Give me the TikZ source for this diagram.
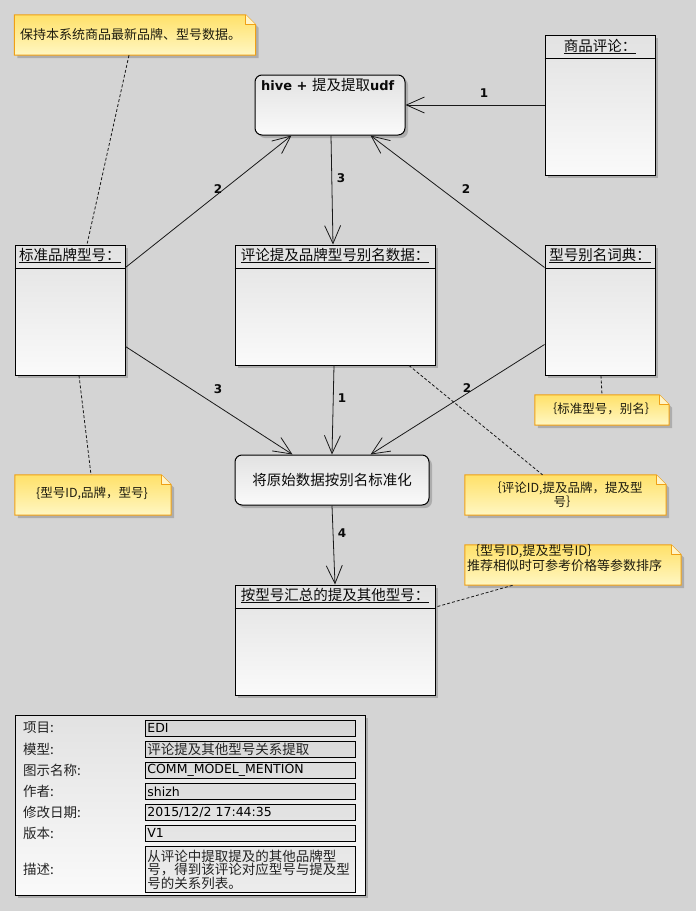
\documentclass[tikz,border=0pt]{standalone}
\usepackage{fontspec}
\setmainfont{DejaVu Sans}
\newfontfamily\cjk{Noto Sans CJK SC}
\usetikzlibrary{calc,arrows.meta,shadows}
\pgfdeclarelayer{background}
\pgfsetlayers{background,main}
\definecolor{bgc}{RGB}{212,212,212}
\definecolor{linec}{RGB}{25,25,25}
\definecolor{clsTop}{RGB}{226,226,226}
\definecolor{clsBot}{RGB}{250,250,250}
\definecolor{noteTop}{RGB}{255,225,105}
\definecolor{noteBot}{RGB}{255,247,195}
\definecolor{noteBorder}{RGB}{240,160,20}
\definecolor{noteCorner}{RGB}{255,244,200}
\definecolor{txtc}{RGB}{10,10,10}
\definecolor{notetxt}{RGB}{30,28,15}
\definecolor{tbltxt}{RGB}{35,35,35}
\newcommand\notebg[1]{%
  \begin{pgfonlayer}{background}
    \fill[black,opacity=0.18] ($(#1.north west)+(3,3)$) -- ($(#1.north east)+(-7,3)$) -- ($(#1.north east)+(3,13)$) -- ($(#1.south east)+(3,3)$) -- ($(#1.south west)+(3,3)$) -- cycle;
    \path[top color=noteTop,bottom color=noteBot,draw=noteBorder,line width=1pt]
      (#1.north west) -- ($(#1.north east)+(-10,0)$) -- ($(#1.north east)+(0,10)$) -- (#1.south east) -- (#1.south west) -- cycle;
    \draw[noteBorder,fill=noteCorner,line width=0.8pt,line join=round] ($(#1.north east)+(-10,0)$) -- ($(#1.north east)+(-10,10)$) -- ($(#1.north east)+(0,10)$);
  \end{pgfonlayer}}
\tikzset{
  conn/.style={draw=linec,line width=0.8pt,-{Straight Barb[length=18pt,width=16pt,line width=0.8pt]}},
  lbl/.style={font=\fontsize{12}{12}\selectfont\bfseries,text=txtc,inner sep=0},
  dashc/.style={draw=linec,line width=0.8pt,dash pattern=on 3pt off 2pt},
  cls/.style={draw=black,line width=1pt,top color=clsTop,bottom color=clsBot,inner sep=0,
    drop shadow={shadow xshift=3pt,shadow yshift=-3pt,fill=black,opacity=0.18}},
  rnd/.style={cls,rounded corners=7pt},
  hdr/.style={draw=black,line width=1pt},
  ttl/.style={font=\cjk\fontsize{14.5}{14.5}\selectfont,text=txtc,inner sep=0},
  note/.style={inner sep=0},
  ntxt/.style={font=\cjk\fontsize{13}{15}\selectfont,text=notetxt,inner sep=0},
  tlab/.style={font=\cjk\fontsize{13.5}{14}\selectfont,text=tbltxt,inner sep=0,anchor=west},
  tval/.style={draw=black,line width=0.8pt,fill=black,fill opacity=0.05,text opacity=1,
    minimum height=16pt,text width=206pt,inner sep=2pt,align=left,anchor=north west,
    font=\fontsize{12.5}{13.5}\selectfont,text=black},
}
\begin{document}
\begin{tikzpicture}[x=1pt,y=-1pt]
\begin{pgfonlayer}{background}
\fill[bgc] (0,0) rectangle (696,911);
\end{pgfonlayer}
\useasboundingbox (0,0) rectangle (696,911);

% ---- class boxes
\node[cls,minimum width=110pt,minimum height=140pt] (cmt) at (600,105) {};
\draw[hdr] ($(cmt.north west)+(0,24)$) -- ($(cmt.north east)+(0,24)$);
\node[ttl] (cmtT) at ($(cmt.north)+(0,12)$) {\underline{商品评论：}};

\node[cls,minimum width=110pt,minimum height=130pt] (std) at (70,310) {};
\draw[hdr] ($(std.north west)+(0,24)$) -- ($(std.north east)+(0,24)$);
\node[ttl] (stdT) at ($(std.north)+(0,11)$) {\underline{标准品牌型号：}};

\node[cls,minimum width=200pt,minimum height=120pt] (ald) at (335,305) {};
\draw[hdr] ($(ald.north west)+(0,24)$) -- ($(ald.north east)+(0,24)$);
\node[ttl] (aldT) at ($(ald.north)+(0,11)$) {\underline{评论提及品牌型号别名数据：}};

\node[cls,minimum width=110pt,minimum height=130pt] (dict) at (600,310) {};
\draw[hdr] ($(dict.north west)+(0,24)$) -- ($(dict.north east)+(0,24)$);
\node[ttl] (dictT) at ($(dict.north)+(0,11)$) {\underline{型号别名词典：}};

\node[cls,minimum width=200pt,minimum height=110pt] (res) at (335,640) {};
\draw[hdr] ($(res.north west)+(0,24)$) -- ($(res.north east)+(0,24)$);
\node[ttl] (resT) at ($(res.north)+(0,11)$) {\underline{按型号汇总的提及其他型号：}};

% ---- rounded boxes
\node[rnd,minimum width=150pt,minimum height=60pt] (hive) at (330,105) {};
\node[anchor=west,inner sep=0,text=txtc] (hiveT) at (261,85)
  {\fontsize{13}{13}\selectfont\bfseries hive + {\cjk\fontsize{14.5}{14.5}\selectfont\mdseries 提及提取}udf};

\node[rnd,minimum width=194pt,minimum height=50pt,font=\cjk\fontsize{14.5}{14.5}\selectfont,text=txtc] (norm) at (332,480) {将原始数据按别名标准化};

% ---- notes
\node[note,minimum width=241pt,minimum height=40pt] (n1) at (135,35) {};
\notebg{n1}
\node[ntxt,anchor=west] (n1t) at (20,35) {保持本系统商品最新品牌、型号数据。};

\node[note,minimum width=134pt,minimum height=30pt] (n2) at (602,410) {};
\notebg{n2}
\node[ntxt,font=\cjk\fontsize{12.5}{14}\selectfont] (n2t) at (601,409) {｛标准型号，别名｝};

\node[note,minimum width=156pt,minimum height=40pt] (n3) at (93,495) {};
\notebg{n3}
\node[ntxt,font=\cjk\fontsize{12.5}{14}\selectfont] (n3t) at (92,493) {\{型号ID,品牌，型号\}};

\node[note,minimum width=201pt,minimum height=40pt] (n4) at (565.5,495) {};
\notebg{n4}
\node[ntxt,font=\cjk\fontsize{12.5}{14}\selectfont,align=center] (n4t) at (566,495) {｛评论ID,提及品牌，提及型\\号｝};

\node[note,minimum width=216pt,minimum height=40pt] (n5) at (573,565) {};
\notebg{n5}
\node[ntxt,anchor=north west,align=left] (n5t) at (467,544) {｛型号ID,提及型号ID｝\\推荐相似时可参考价格等参数排序};

% ---- connectors
\draw[conn] (cmt.west) -- (hive.east);
\draw[conn] ($(std.north east)+(0,23)$) -- ($(hive.south west)+(37,0)$);
\draw[conn] ($(dict.north west)+(0,23)$) -- ($(hive.south east)+(-35,0)$);
\draw[conn] ($(hive.south)+(1,0)$) -- ($(ald.north)+(-2,0)$);
\draw[conn] ($(std.north east)+(0,102)$) -- ($(norm.north west)+(58,0)$);
\draw[conn] ($(ald.south)+(-1,0)$) -- (norm.north);
\draw[conn] ($(dict.north west)+(0,100)$) -- ($(norm.north west)+(136,0)$);
\draw[conn] (norm.south) -- (res.north);

\node[lbl] (l1) at (484,93) {1};
\node[lbl] (l2) at (218,189) {2};
\node[lbl] (l3) at (466,189) {2};
\node[lbl] (l4) at (341,178) {3};
\node[lbl] (l5) at (218,389) {3};
\node[lbl] (l6) at (342,398) {1};
\node[lbl] (l7) at (467,388) {2};
\node[lbl] (l8) at (342,533) {4};

% ---- dashed note links
\draw[dashc] ($(n1.south)+(-6,0)$) -- ($(std.north)+(17,0)$);
\draw[dashc] ($(std.south)+(9,0)$) -- ($(n3.north)+(-2,0)$);
\draw[dashc] ($(dict.south)+(1,0)$) -- (n2.north);
\draw[dashc] ($(ald.south)+(74,0)$) -- ($(n4.north)+(-23,0)$);
\draw[dashc] ($(res.north east)+(2,22)$) -- ($(n5.south)+(-60,0)$);

% ---- info table
\node[draw=black,line width=1pt,top color=clsTop,bottom color=clsBot,minimum width=350pt,minimum height=180pt,inner sep=0,
  drop shadow={shadow xshift=3pt,shadow yshift=-3pt,fill=black,opacity=0.18}] (tbl) at (190,805) {};
\node[tlab] (k1) at (23,728) {项目:};
\node[tlab] (k2) at (23,749) {模型:};
\node[tlab] (k3) at (23,770) {图示名称:};
\node[tlab] (k4) at (23,791) {作者:};
\node[tlab] (k5) at (23,812) {修改日期:};
\node[tlab] (k6) at (23,833) {版本:};
\node[tlab] (k7) at (23,869) {描述:};
\node[tval] (v1) at (145,720) {EDI};
\node[tval,font=\cjk\fontsize{13.5}{14}\selectfont,text=tbltxt] (v2) at (145,741) {评论提及其他型号关系提取};
\node[tval] (v3) at (145,762) {COMM\_MODEL\_MENTION};
\node[tval] (v4) at (145,783) {shizh};
\node[tval] (v5) at (145,804) {2015/12/2 17:44:35};
\node[tval] (v6) at (145,825) {V1};
\node[tval,minimum height=46pt,font=\cjk\fontsize{13.5}{13.5}\selectfont,text=tbltxt] (v7) at (145,846) {从评论中提取提及的其他品牌型\\号，得到该评论对应型号与提及型\\号的关系列表。};
\end{tikzpicture}
\end{document}
